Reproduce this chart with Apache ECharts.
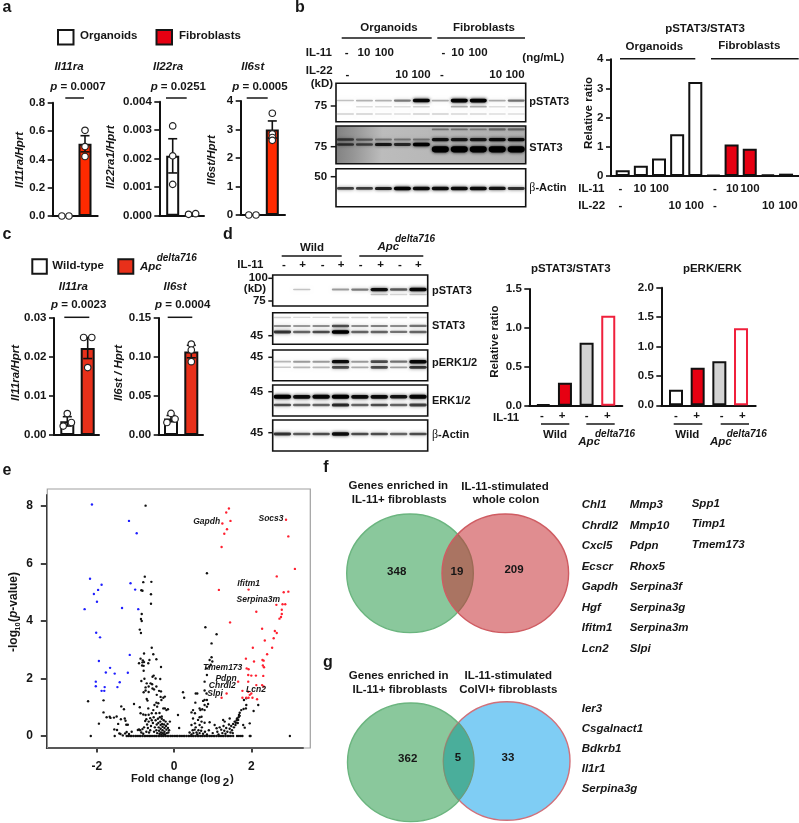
<!DOCTYPE html>
<html><head><meta charset="utf-8">
<style>html,body{margin:0;padding:0;background:#fff}#c{width:799px;height:823px}</style>
<script src="https://cdn.jsdelivr.net/npm/echarts@6/dist/echarts.min.js"></script>
</head><body><div id="c"></div>
<script>
// ---------- panel a ----------
const a1Means=[0,0.51], a1Err=[0,0.057], a1Dots=[[-0.2,0],[0.17,0],[1,0.605],[1,0.49],[1,0.42]];
const a2Means=[0.0021,0], a2Err=[0.0006,0], a2Dots=[[0,0.00315],[0,0.0021],[0,0.0011],[0.81,0.00005],[1.17,0.00007]];
const a3Means=[0,3.0], a3Err=[0,0.3], a3Dots=[[-0.2,0],[0.17,0],[1,3.57],[1,2.85],[1,2.72],[1,2.62]];
// ---------- panel b ----------
const bRatio=[0.2,0.35,0.6,1.43,3.22,0.04,1.08,0.93,0.05,0.08];
const bIL11=['-','10','100','','','-','10','100','',''];
const bIL22=['-','','','10','100','-','','','10','100'];
const bpStat3Main=[.16,.22,.22,.42,.95,.25,1,1,.25,.45];
const bpStat3Second=[0,.05,.05,.05,.1,0,.25,.25,.05,.1];
const bpStat3Third=[.1,.1,.05,.05,.1,.1,.08,.08,.05,.05];
const bStat3Top=[0,0,0,0,0,.3,.3,.25,.35,.35];
const bStat3Upper=[.55,.4,.3,.3,.3,.85,.8,.8,.9,.9];
const bStat3Lower=[.6,.55,.8,.7,1,0,0,0,0,0];
const bStat3Heavy=[0,0,0,0,0,1,1,1,1,1];
const bActin=[.65,.65,.8,1,.9,.9,.9,.9,.85,.7];
// ---------- panel c ----------
const c1Means=[0.0035,0.0223], c1Err=[0.0012,0.0027], c1Dots=[[0,0.0055],[0.2,0.0032],[-0.2,0.0023],[0.8,0.025],[1.2,0.025],[1,0.0173]];
const c2Means=[0.021,0.107], c2Err=[0.004,0.008], c2Dots=[[0,0.0277],[0.2,0.0205],[-0.2,0.016],[1,0.1166],[1,0.109],[1,0.094]];
// ---------- panel d ----------
const dStatRatio=[0.015,0.295,0.81,1.155];
const dErkRatio=[0.265,0.64,0.75,1.31];
const dTreat=['-','+','-','+','-','+','-','+'];
const dpStat3Main=[0,.15,0,.3,.42,.9,.55,.95];
const dpStat3Second=[0,0,0,0,0,.15,.08,.15];
const dStat3Top=[.1,.06,.06,.12,.08,.1,.08,.1];
const dStat3Upper=[.35,.3,.35,.6,.35,.4,.35,.45];
const dStat3Lower=[.7,.5,.6,1,.5,.5,.45,.5];
const dpErkUpper=[.2,.3,.3,.9,.3,.6,.45,.95];
const dpErkLower=[.12,.2,.2,.6,.25,.6,.3,.7];
const dErkUpper=[1,.9,.95,1,.9,.9,.85,.95];
const dErkLower=[.6,.5,.5,.75,.5,.6,.5,.65];
const dActin=[.7,.55,.6,.9,.6,.6,.5,.6];
// ---------- panel e ----------
const volcanoBlue=[[-2.13,8.05],[-1.17,7.48],[-0.97,7.05],[-2.18,5.47],[-1.88,5.26],[-1.97,5.08],[-2.08,4.94],[-2.0,4.67],[-2.32,4.41],[-1.13,5.31],[-1.01,5.09],[-1.35,4.45],[-0.93,4.41],[-2.02,3.59],[-1.92,3.43],[-1.15,2.82],[-1.95,2.61],[-1.66,2.37],[-1.77,2.21],[-1.54,2.17],[-1.20,2.2],[-2.03,1.89],[-2.03,1.73],[-1.41,1.87],[-1.47,1.70],[-1.80,1.70],[-1.88,1.57],[-1.81,1.57]];
const volcanoRed=[[1.42,7.91],[1.35,7.77],[1.46,7.48],[1.25,7.39],[1.37,7.19],[1.30,7.03],[1.23,6.57],[2.90,7.52],[2.96,6.94],[3.13,5.81],[2.66,5.55],[1.16,5.08],[1.93,5.09],[2.84,5.0],[2.96,5.02],[2.65,4.56],[2.81,4.58],[2.88,4.58],[2.79,4.39],[2.13,4.32],[2.79,4.24],[2.77,4.14],[2.73,4.08],[1.45,3.95],[2.28,3.73],[2.61,3.65],[2.66,3.58],[2.58,3.4],[2.35,3.32],[2.04,3.07],[2.54,3.07],[2.41,2.84],[1.86,2.69],[2.07,2.59],[2.29,2.64],[2.32,2.62],[2.30,2.45],[2.33,2.39],[1.88,2.35],[1.93,2.32],[2.31,2.09],[1.92,2.12],[2.0,2.1],[2.12,2.1],[1.92,1.89],[1.66,1.89],[2.13,1.77],[2.28,1.77],[2.32,1.72],[1.77,1.57],[1.92,1.54],[2.0,1.48],[1.96,1.43],[1.36,1.48],[1.23,1.33],[1.77,1.33],[1.87,1.33],[1.93,1.33],[2.03,1.33],[2.15,1.28]];
const volcanoBlackUpper=[[-0.74,8.01],[-0.76,5.54],[-0.80,5.35],[-0.59,5.36],[-0.85,5.07],[-0.82,5.05],[-0.60,4.93],[-0.60,4.60],[-0.84,4.24],[-0.86,4.07],[-0.84,4.0],[-0.89,3.70],[-0.86,3.58],[-0.58,3.07],[-0.78,2.87],[-0.54,2.84],[-0.46,2.67],[-0.64,2.64],[-0.87,2.69],[-0.81,2.63],[-0.91,2.53],[-0.82,2.56],[-0.78,2.57],[-0.83,2.45],[-0.79,2.44],[-0.67,2.53],[-0.79,2.27],[-0.34,2.4],[0.85,5.66],[0.81,3.78],[1.10,3.54],[0.97,3.22],[0.97,2.74],[0.92,2.64],[0.99,2.59],[0.95,2.48],[0.91,2.41],[0.85,2.35],[0.85,2.12],[0.79,1.89]];
const volcanoBlackMiddle=[[-2.23,1.21],[-1.95,0.43],[-1.83,1.24],[-1.83,0.82],[-1.75,0.65],[-1.67,0.67],[-1.65,0.63],[-1.56,0.64],[-1.49,0.68],[-1.37,1.03],[-1.30,0.93],[-1.38,0.58],[-1.28,0.61],[-1.26,0.53],[-1.45,0.42],[-1.24,0.39],[-1.20,0.39],[-1.55,0.23],[-1.48,0.21],[-1.42,0.09],[-1.39,0.07],[-1.33,0.02],[-1.27,0.09],[-1.23,0.14],[-1.17,0.07],[-1.1,0.15],[-1.04,1.11],[-0.89,1.0],[-0.91,0.23],[-0.82,0.24],[-0.94,0.21],[-0.85,1.91],[-0.77,1.99],[-0.56,2.06],[-0.53,2.1],[-0.48,2.0],[-0.36,1.98],[-0.71,1.83],[-0.61,1.83],[-0.57,1.8],[-0.74,1.69],[-0.66,1.72],[-0.56,1.65],[-0.46,1.72],[-0.79,1.52],[-0.74,1.58],[-0.66,1.53],[-0.52,1.62],[-0.39,1.57],[-0.34,1.55],[-0.45,1.43],[-0.71,1.29],[-0.69,1.23],[-0.35,1.36],[-0.28,1.33],[-0.24,1.37],[-0.33,1.25],[-0.46,1.16],[-0.41,1.14],[-0.51,1.08],[-0.44,1.02],[-0.67,0.96],[-0.28,0.96],[-0.24,0.96],[-0.2,0.9],[-0.54,0.9],[-0.87,0.79],[-0.80,0.75],[-0.74,0.73],[-0.66,0.74],[-0.58,0.79],[-0.47,0.79],[-0.53,0.65],[-0.38,0.8],[-0.32,0.68],[-0.16,0.93],[-0.11,0.5],[0.1,0.73],[0.13,0.28],[0.23,1.52],[0.26,1.33],[0.56,1.48],[0.6,1.48],[0.79,1.58],[0.84,1.48],[0.79,1.25],[0.85,1.25],[0.75,1.22],[0.88,1.11],[0.55,1.16],[0.79,1.08],[0.66,0.96],[0.73,0.93],[0.79,0.9],[0.68,0.9],[0.85,1.02],[0.49,0.9],[0.45,0.82],[0.54,0.79],[0.49,0.61],[0.66,0.65],[0.71,0.67],[0.62,0.56],[0.71,0.5],[0.45,0.38],[0.54,0.44],[0.66,0.38],[0.79,0.46],[0.92,0.48],[1.05,0.38],[1.1,0.27],[1.27,0.56],[1.31,0.5],[1.44,0.61],[1.87,1.31],[1.81,1.25],[1.86,0.96],[1.87,1.08],[1.80,0.94],[1.74,0.9],[1.70,0.81],[1.68,0.73],[1.63,0.61],[1.66,0.56],[1.6,0.46],[1.53,0.42],[1.79,0.38],[1.83,0.29],[1.96,0.44],[2.06,0.87],[2.18,1.08]];
const volcanoBlackDense=[[-0.55,0.45],[-0.5,0.3],[-0.52,0.15],[-0.48,0.55],[-0.45,0.4],[-0.46,0.2],[-0.44,0.1],[-0.42,0.6],[-0.41,0.45],[-0.4,0.3],[-0.39,0.18],[-0.38,0.08],[-0.37,0.65],[-0.36,0.5],[-0.35,0.38],[-0.35,0.25],[-0.34,0.12],[-0.33,0.05],[-0.32,0.6],[-0.31,0.42],[-0.3,0.32],[-0.3,0.2],[-0.29,0.1],[-0.28,0.03],[-0.27,0.55],[-0.26,0.4],[-0.25,0.28],[-0.25,0.15],[-0.24,0.06],[-0.22,0.5],[-0.21,0.35],[-0.2,0.22],[-0.19,0.1],[-0.17,0.42],[-0.16,0.28],[-0.15,0.12],[-0.13,0.2],[-0.6,0.35],[-0.62,0.2],[-0.65,0.12],[-0.68,0.28],[-0.7,0.4],[-0.72,0.15],[-0.75,0.52],[-0.78,0.3],[-0.8,0.08],[-0.85,0.12],[-0.88,0.2],[-0.58,0.55],[-0.62,0.62],[-0.66,0.5],[-0.72,0.58],[0.4,0.12],[0.45,0.05],[0.48,0.2],[0.5,0.1],[0.53,0.22],[0.56,0.3],[0.58,0.12],[0.6,0.05],[0.63,0.2],[0.66,0.1],[0.7,0.18],[0.72,0.3],[0.75,0.08],[0.8,0.15],[0.85,0.05],[0.9,0.2],[1.0,0.1],[1.12,0.15],[1.15,0.05],[1.18,0.3],[1.22,0.22],[1.25,0.1],[1.28,0.35],[1.3,0.18],[1.33,0.08],[1.35,0.28],[1.38,0.15],[1.42,0.4],[1.44,0.25],[1.46,0.12],[1.48,0.35],[1.5,0.2],[1.52,0.1],[1.55,0.3],[1.57,0.5],[1.59,0.38],[1.62,0.55],[1.65,0.45],[1.67,0.65],[1.7,0.7]];
const volcanoZeroX=[-2.16,-1.54,-1.23,-1.19,-1.14,-1.1,-1.05,-1.0,-0.96,-0.91,-0.87,-0.82,-0.77,-0.73,-0.68,-0.64,-0.6,-0.55,-0.5,-0.46,-0.41,-0.37,-0.32,-0.28,-0.23,-0.18,-0.14,-0.09,-0.05,0,0.05,0.09,0.14,0.18,0.23,0.27,0.32,0.37,0.41,0.46,0.5,0.55,0.6,0.64,0.69,0.73,0.78,0.83,0.87,0.92,0.96,1.01,1.05,1.1,1.15,1.19,1.24,1.28,1.33,1.38,1.42,1.47,1.53,1.63,1.68,1.73,1.77,1.96,1.98,3.0];
const volcanoLabels=['Gapdh','Socs3','Ifitm1','Serpina3m','Tmem173','Pdpn','Chrdl2','Slpi','Lcn2'];
// ---------- panels f, g ----------
const fCounts=[348,19,209];
const gCounts=[362,5,33];
const fGenes1=['Chl1','Chrdl2','Cxcl5','Ecscr','Gapdh','Hgf','Ifitm1','Lcn2'];
const fGenes2=['Mmp3','Mmp10','Pdpn','Rhox5','Serpina3f','Serpina3g','Serpina3m','Slpi'];
const fGenes3=['Spp1','Timp1','Tmem173'];
const gGenes=['Ier3','Csgalnact1','Bdkrb1','Il1r1','Serpina3g'];

const FF='"Liberation Sans",Arial,sans-serif', INK='#161616';
const grid=[],xAxis=[],yAxis=[],series=[],graphic=[];
const fnt=(s,b=true,i=false)=>`${i?'italic ':''}${b?'bold ':''}${s}px ${FF}`;
function T(x,y,text,o={}){
  const s=o.size||11.5;
  const el={type:'text',x,y,z:20,rotation:o.rot||0,silent:true,style:{text,x:0,y:0,fill:o.fill||INK,
    font:fnt(s,o.bold!==false,!!o.it),textAlign:o.al||'center',textVerticalAlign:'middle',rich:o.rich}};
  graphic.push(el);
}
function L(x1,y,x2,w=1.5,y2){graphic.push({type:'line',z:15,silent:true,shape:{x1,y1:y,x2,y2:y2===undefined?y:y2},style:{stroke:INK,lineWidth:w}});}
function R(x,y,w,h,fill){graphic.push({type:'rect',z:15,silent:true,shape:{x,y,width:w,height:h},style:{fill,stroke:INK,lineWidth:2}});}
function ptext(v,x,y){T(x,y,`{i|p}{b| = ${v}}`,{rich:{i:{font:fnt(11.5,true,true),fill:INK},b:{font:fnt(11.5),fill:INK}}});}
function beta(x,y){T(x,y,'{s|β}{b|-Actin}',{al:'left',rich:{s:{font:`12px "Liberation Serif",serif`,fill:INK},b:{font:fnt(11),fill:INK}}});}

// A bar panel: the x axis is numeric so bar centres follow the reference's spacing
function barPanel(c){
  const i=grid.length, H=c.bottom-c.top;
  grid.push({left:c.left,top:c.top,width:c.right-c.left,height:H,containLabel:false});
  xAxis.push({gridIndex:i,type:'value',min:(c.left-c.c0)/c.step,max:(c.right-c.c0)/c.step,show:true,
    axisLine:{show:true,onZero:false,lineStyle:{color:'#111',width:2}},axisTick:{show:false},axisLabel:{show:false},splitLine:{show:false}});
  yAxis.push({gridIndex:i,type:'value',min:0,max:c.max,interval:c.interval,
    axisLine:{show:true,onZero:false,lineStyle:{color:'#111',width:2}},axisTick:{show:true,length:5,lineStyle:{color:'#111',width:1.6}},
    axisLabel:{margin:7.5,color:INK,fontWeight:'bold',fontSize:11.5,fontFamily:FF,formatter:v=>v.toFixed(c.dec)},splitLine:{show:false}});
  series.push({type:'bar',xAxisIndex:i,yAxisIndex:i,barWidth:c.bw,clip:false,z:2,
    data:c.values.map((v,k)=>({value:[k,v],itemStyle:{color:c.colors[k],borderColor:c.borders?c.borders[k]:'#111',borderWidth:c.bb||2}}))});
  if(c.err) series.push({type:'custom',xAxisIndex:i,yAxisIndex:i,z:3,clip:false,
    data:c.values.map((v,k)=>[k,v-c.err[k],v+c.err[k]]).filter((d,k)=>c.err[k]>0),
    renderItem:(p,api)=>{const a=api.coord([api.value(0),api.value(1)]),b=api.coord([api.value(0),api.value(2)]);
      const st={stroke:'#111',lineWidth:1.6},l=(x1,y1,x2,y2)=>({type:'line',shape:{x1,y1,x2,y2},style:st});
      return {type:'group',children:[l(a[0],a[1],b[0],b[1]),l(a[0]-4.5,a[1],a[0]+4.5,a[1]),l(a[0]-4.5,b[1],a[0]+4.5,b[1])]};}});
  if(c.dots) series.push({type:'scatter',xAxisIndex:i,yAxisIndex:i,z:4,clip:false,symbol:'circle',symbolSize:6.5,data:c.dots,
    itemStyle:{color:'#fff',borderColor:'#222',borderWidth:1.2,opacity:1}});
}
const RA='#ff2a00',RC='#e8301a',RB='#e60012';
barPanel({left:52.7,right:97.7,top:102.7,bottom:216,c0:65.7,step:19.3,bw:13,max:.8,interval:.2,dec:1,values:a1Means,err:a1Err,dots:a1Dots,colors:['#fff',RA]});
barPanel({left:159.3,right:204,top:101.7,bottom:215.7,c0:172.7,step:19.6,bw:13,max:.004,interval:.001,dec:3,values:a2Means,err:a2Err,dots:a2Dots,colors:['#fff',RA]});
barPanel({left:240.7,right:285,top:101,bottom:215,c0:252.7,step:19.6,bw:13,max:4,interval:1,dec:0,values:a3Means,err:a3Err,dots:a3Dots,colors:['#fff',RA]});
barPanel({left:611,right:799,top:59.3,bottom:176,c0:622.7,step:18.15,bw:14,max:4,interval:1,dec:0,values:bRatio,colors:['#fff','#fff','#fff','#fff','#fff',RB,RB,RB,RB,RB]});
barPanel({left:54,right:99,top:318,bottom:435,c0:67.3,step:20.4,bw:14,max:.03,interval:.01,dec:2,values:c1Means,err:c1Err,dots:c1Dots,colors:['#fff',RC]});
barPanel({left:158.7,right:203,top:318,bottom:435,c0:171,step:20.3,bw:14,max:.15,interval:.05,dec:2,values:c2Means,err:c2Err,dots:c2Dots,colors:['#fff',RC]});
const dCols=['#fff',RB,'#d3d3d3','#fff'],dBord=['#111','#111','#111','#f0203c'];
barPanel({left:529.3,right:622.3,top:289,bottom:405.7,c0:543.3,step:21.65,bw:14,max:1.5,interval:.5,dec:1,values:dStatRatio,colors:dCols,borders:dBord});
barPanel({left:661.3,right:755.7,top:287.7,bottom:405.3,c0:676,step:21.67,bw:14,max:2,interval:.5,dec:1,values:dErkRatio,colors:dCols,borders:dBord});

// Blots: each band's darkness per lane comes from the arrays above
function blot(c){
  const i=grid.length;
  grid.push({left:c.left,top:c.top,width:c.right-c.left,height:c.bottom-c.top,show:true,backgroundColor:c.bg||'#fff',borderColor:'#111',borderWidth:1.6});
  const n=c.bands[0].v.length;
  xAxis.push({gridIndex:i,type:'value',min:-.5,max:n-.5,show:false});
  yAxis.push({gridIndex:i,type:'value',min:0,max:1,inverse:true,show:false});
  const data=[];
  c.bands.forEach(b=>b.v.forEach((v,k)=>{if(v>0)data.push([k,b.y,v,b.h||1]);}));
  const laneW=(c.right-c.left)/n;
  series.push({type:'custom',xAxisIndex:i,yAxisIndex:i,clip:true,data,
    renderItem:(p,api)=>{const q=api.coord([api.value(0),api.value(1)]),v=api.value(2),hs=api.value(3);
      const h=(1.2+2.4*v)*hs,w=laneW*.9;
      const col=`rgba(0,0,0,${Math.min(1,.08+v*.92)})`;
      return {type:'rect',shape:{x:q[0]-w/2,y:q[1]-h/2,width:w,height:h,r:h/2},style:{fill:col,shadowBlur:3.5,shadowColor:col}};}});
}
const bL=336,bR=525.7;
blot({left:bL,right:bR,top:83.3,bottom:121.7,bands:[{y:.45,v:bpStat3Main},{y:.61,v:bpStat3Second},{y:.8,v:bpStat3Third}]});
blot({left:bL,right:bR,top:126,bottom:163.7,bg:{type:'linear',x:0,y:0,x2:1,y2:.25,colorStops:[{offset:0,color:'#808080'},{offset:.1,color:'#959595'},{offset:.25,color:'#bcbcbc'},{offset:1,color:'#b0b0b0'}]},
  bands:[{y:.09,v:bStat3Top},{y:.36,v:bStat3Upper},{y:.49,v:bStat3Lower},{y:.62,v:bStat3Heavy,h:1.7}]});
blot({left:bL,right:bR,top:168.7,bottom:206.7,bands:[{y:.52,v:bActin}]});
const dL=272.7,dR=427.7;
blot({left:dL,right:dR,top:275,bottom:306,bands:[{y:.47,v:dpStat3Main},{y:.63,v:dpStat3Second}]});
blot({left:dL,right:dR,top:312.7,bottom:344.3,bands:[{y:.15,v:dStat3Top},{y:.42,v:dStat3Upper},{y:.61,v:dStat3Lower}]});
blot({left:dL,right:dR,top:350,bottom:380.7,bands:[{y:.38,v:dpErkUpper},{y:.565,v:dpErkLower}]});
blot({left:dL,right:dR,top:385,bottom:416,bands:[{y:.38,v:dErkUpper,h:1.1},{y:.645,v:dErkLower}]});
blot({left:dL,right:dR,top:420,bottom:451,bands:[{y:.45,v:dActin}]});

// Volcano
(function(){
  const i=grid.length;
  grid.push({left:46.8,top:495,width:256.2,height:252.5});
  xAxis.push({gridIndex:i,type:'value',min:-3.3,max:3.34,
    axisLine:{show:true,onZero:false,lineStyle:{color:'#111',width:2}},
    axisTick:{show:true,length:5,customValues:[-2,0,2],lineStyle:{color:'#111',width:1.6}},
    axisLabel:{margin:13,customValues:[-2,0,2],color:INK,fontWeight:'bold',fontSize:12,fontFamily:FF},splitLine:{show:false}});
  yAxis.push({gridIndex:i,type:'value',min:-0.4,max:8.38,
    axisLine:{show:true,onZero:false,lineStyle:{color:'#111',width:2}},
    axisTick:{show:true,length:6,customValues:[0,2,4,6,8],lineStyle:{color:'#111',width:1.6}},
    axisLabel:{margin:14,customValues:[0,2,4,6,8],color:INK,fontWeight:'bold',fontSize:12,fontFamily:FF},splitLine:{show:false}});
  const sc=(data,color)=>series.push({type:'scatter',xAxisIndex:i,yAxisIndex:i,symbol:'circle',symbolSize:2.4,clip:false,large:false,data,itemStyle:{color,opacity:1}});
  sc(volcanoBlackUpper,'#111');sc(volcanoBlackMiddle,'#111');sc(volcanoBlackDense,'#111');
  sc(volcanoZeroX.map(x=>[x,0]),'#111');
  sc(volcanoBlue,'#1f1fff');sc(volcanoRed,'#ff2030');
})();
graphic.push({type:'rect',z:1,silent:true,shape:{x:47.3,y:489,width:263,height:259},style:{fill:'none',stroke:'#a0a0a0',lineWidth:1.2}});

// --- letters
[['a',7,8],['b',300,8],['c',7,235],['d',228,235],['e',7,471],['f',326,468],['g',328,663]].forEach(d=>T(d[1],d[2],d[0],{size:16}));
// --- a
R(58,30,15.5,14.5,'#fff');T(80,36,'Organoids',{al:'left'});R(156.5,30,15.5,14.5,RB);T(179,36,'Fibroblasts',{al:'left'});
[['Il11ra',69],['Il22ra',168],['Il6st',252.7]].forEach(d=>T(d[1],67,d[0],{it:true}));
ptext('0.0007',78,87);ptext('0.0251',178.3,87);ptext('0.0005',260,87);
L(65.3,98,84);L(166,98,186.7);L(246.7,98,267.7);
const rot=Math.PI/2;
T(20,160,'Il11ra/Hprt',{it:true,rot});T(110.7,157,'Il22ra1/Hprt',{it:true,rot});T(211.7,160,'Il6st/Hprt',{it:true,rot});
// --- b blot text
T(389,28,'Organoids');L(341.7,38,431.7);T(484,28,'Fibroblasts');L(437.3,38,525);
T(305.7,53,'IL-11',{al:'left'});T(305.7,70.7,'IL-22',{al:'left'});T(310.7,84,'(kD)',{al:'left'});T(522.3,58,'(ng/mL)',{al:'left'});
const b11X=[346.7,364,384.3,0,0,443.3,457.7,478,0,0],b22X=[347.3,0,0,401.7,421,442,0,0,495.7,515];
bIL11.forEach((t,k)=>{if(t)T(b11X[k],53,t);});bIL22.forEach((t,k)=>{if(t)T(b22X[k],74.7,t);});
T(320.7,106,'75');L(330.7,106,336);T(320.7,146.7,'75');L(330.7,146.7,336);T(320.7,176.7,'50');L(330.7,176.7,336);
T(529.3,101.7,'pSTAT3',{al:'left',size:11});T(529.3,148,'STAT3',{al:'left',size:11});beta(529.3,188.3);
// --- b bars text
T(705,28.7,'pSTAT3/STAT3');T(654.3,46.7,'Organoids');L(620,58.7,695.3);T(749.3,46,'Fibroblasts');L(711,58.7,798.7);
T(589,113,'Relative ratio',{rot});T(578.3,189.3,'IL-11',{al:'left'});T(578.3,206,'IL-22',{al:'left'});
const b11Y=[620.3,640,659.3,0,0,715,732.3,750,0,0],b22Y=[620.3,0,0,675,694.3,715,0,0,768.3,788];
bIL11.forEach((t,k)=>{if(t)T(b11Y[k],189.3,t);});bIL22.forEach((t,k)=>{if(t)T(b22Y[k],206,t);});
// --- c
R(32.3,259.3,14.5,14.5,'#fff');T(52.3,266,'Wild-type',{al:'left'});R(118.3,259.3,15,14.5,RC);T(140,267.3,'Apc',{al:'left',it:true});T(156.7,258.3,'delta716',{al:'left',it:true,size:10});
T(73.3,287.3,'Il11ra',{it:true});T(175,287.3,'Il6st',{it:true});ptext('0.0023',78.7,305);ptext('0.0004',182.7,305);
L(64.3,317.3,89.3);L(167.7,317.3,192.3);
T(15.7,373,'Il11ra/Hprt',{it:true,rot});T(119.3,373,'Il6st / Hprt',{it:true,rot});
// --- d blots text
T(312,248.3,'Wild');L(281.7,256,341.7);T(388.3,246.7,'Apc',{it:true});T(395,239,'delta716',{it:true,al:'left',size:10});L(359.3,256,423.3);
T(237.3,265,'IL-11',{al:'left'});
[284,302.7,322.7,341,360.7,380.7,400,418.3].forEach((x,k)=>T(x,265,dTreat[k]));
T(258.3,278.3,'100');L(268.3,278.3,272.7);T(255,289.3,'(kD)');T(259.3,301,'75');L(268.3,301,272.7);
[335.7,357.3,391.7,432.7].forEach(y=>{T(256.7,y,'45');L(268.3,y,272.7);});
T(432,291,'pSTAT3',{al:'left',size:11});T(432,325.7,'STAT3',{al:'left',size:11});T(432,363.3,'pERK1/2',{al:'left',size:11});T(432,401,'ERK1/2',{al:'left',size:11});beta(432,435);
// --- d bars text
T(570.7,268.7,'pSTAT3/STAT3');T(712.3,268.7,'pERK/ERK');T(495,341.7,'Relative ratio',{rot});T(493,418.3,'IL-11',{al:'left'});
[542,562,586.7,607.3].forEach((x,k)=>T(x,416,dTreat[k]));[676,696.7,721.7,742.3].forEach((x,k)=>T(x,416,dTreat[k]));
L(541,424,569.3);L(586.3,424,614.7);L(673.7,424,702.3);L(720.7,424,749);
T(555,435,'Wild');T(687.3,435,'Wild');T(578.3,441.7,'Apc',{al:'left',it:true});T(595,434.7,'delta716',{al:'left',it:true,size:10});T(710,441.7,'Apc',{al:'left',it:true});T(726.7,434.7,'delta716',{al:'left',it:true,size:10});
// --- e text
T(14,641,'-log',{rot,size:12});T(18,626.5,'10',{rot,size:7.5});
T(14,597,'{b|(}{i|p}{b|-value)}',{rot,rich:{b:{font:fnt(12),fill:INK},i:{font:fnt(12,true,true),fill:INK}}});
T(131,779,'Fold change (log',{al:'left',size:11.2});T(226,783,'2',{size:11.5});T(232,779,')',{size:11.5});
const vPos=[[206.7,521.7],[271,519],[248.7,583.3],[258.3,600],[222.7,667.3],[226,678.3],[222.3,685.7],[215,693.3],[256,689.3]];
volcanoLabels.forEach((t,k)=>T(vPos[k][0],vPos[k][1],t,{it:true,size:8.5}));
// --- f/g venn
function circle(cx,cy,fill,stroke,z,lw=1.4){graphic.push({type:'ellipse',z,silent:true,shape:{cx,cy,rx:63.3,ry:59.3},style:{fill,stroke,lineWidth:lw}});}
circle(410,573.3,'#8ac89c','#6bb57f',2);circle(505.3,573.3,'rgba(198,44,50,.54)','#cf5c62',3);
circle(410.8,762.3,'#8ac89c','#6bb57f',2);circle(506.7,761,'#7fcdf4','#d0707a',3);
// overlap of the two g circles
(function(){
  const cxA=410.8,cxB=506.7,cy=761.6,rx=63.3,ry=59.3,pts=[];
  const mid=(cxA+cxB)/2,t=Math.acos((mid-cxA)/rx);
  for(let k=0;k<=24;k++){const a=-t+2*t*k/24;pts.push([cxA+rx*Math.cos(a),cy+ry*Math.sin(a)]);}
  for(let k=0;k<=24;k++){const a=Math.PI-t+2*t*k/24;pts.push([cxB+rx*Math.cos(a),cy+ry*Math.sin(a)]);}
  graphic.push({type:'polygon',z:4,silent:true,shape:{points:pts},style:{fill:'#4aae9b',stroke:'#6d9a78',lineWidth:1.2}});
})();
T(398.3,485.7,'Genes enriched in');T(399.3,500,'IL-11+ fibroblasts');T(505,486.7,'IL-11-stimulated');T(506,500,'whole colon');
T(396.7,572,String(fCounts[0]));T(457,571.7,String(fCounts[1]));T(514,570,String(fCounts[2]));
T(398.7,675.7,'Genes enriched in');T(400,690,'IL-11+ fibroblasts');T(508.3,675.7,'IL-11-stimulated');T(508.3,690,'ColVI+ fibroblasts');
T(407.7,758.7,String(gCounts[0]));T(458,758,String(gCounts[1]));T(508,758,String(gCounts[2]));
const fRows=[505.3,525.7,546.3,566.7,587,607.7,628,648.7];
fGenes1.forEach((t,k)=>T(581.7,fRows[k],t,{al:'left',it:true}));
fGenes2.forEach((t,k)=>T(629.7,fRows[k],t,{al:'left',it:true}));
fGenes3.forEach((t,k)=>T(691.7,[503.7,524.3,544.7][k],t,{al:'left',it:true}));
gGenes.forEach((t,k)=>T(581.7,[709,729.3,749.3,769.3,789.3][k],t,{al:'left',it:true}));

const chart=echarts.init(document.getElementById('c'),null,{renderer:'canvas'});
chart.setOption({animation:false,backgroundColor:'#fff',textStyle:{fontFamily:FF},grid,xAxis,yAxis,series,graphic:{elements:graphic}});
</script></body></html>
